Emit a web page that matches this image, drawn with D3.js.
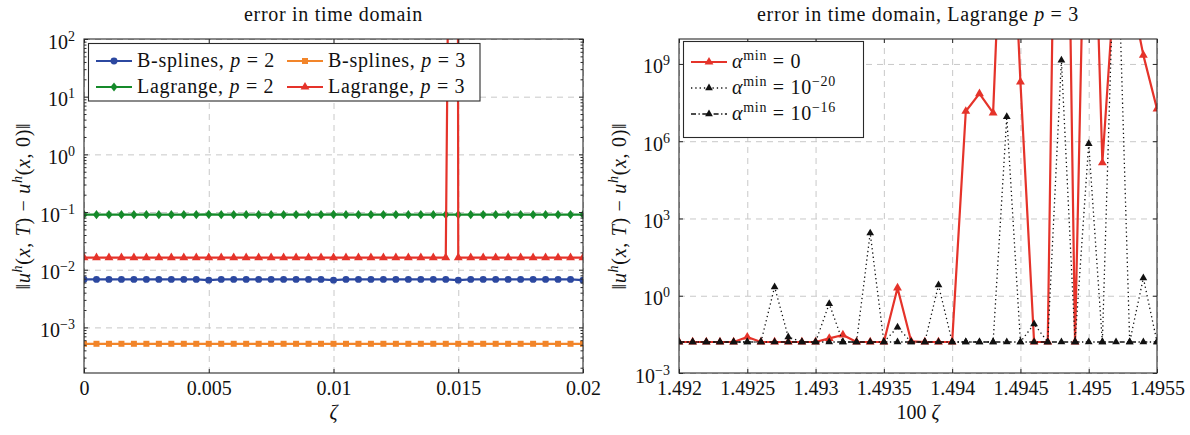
<!DOCTYPE html>
<html>
<head>
<meta charset="utf-8">
<script src="https://cdn.jsdelivr.net/npm/d3@7"></script>
<style>
body { margin: 0; background: #fff; }
</style>
</head>
<body>
<svg id="chart" width="1190" height="435"></svg>
<script>
// ---------- left panel: error vs zeta ----------
const zeta = d3.range(41).map(i => +(i * 0.0005).toFixed(4));
const bspline2 = [
  0.0068, 0.0068, 0.0068, 0.0068, 0.0068, 0.0068, 0.0068, 0.0068, 0.0068, 0.0068,
  0.0066, 0.0068, 0.0068, 0.0068, 0.0068, 0.0068, 0.0068, 0.0068, 0.0068, 0.0068,
  0.0066, 0.0068, 0.0068, 0.0068, 0.0068, 0.0068, 0.0068, 0.0068, 0.0068, 0.0068,
  0.0066, 0.0068, 0.0068, 0.0068, 0.0068, 0.0068, 0.0068, 0.0068, 0.0068, 0.0068,
  0.0066];
const bspline3 = [
  5.2e-4, 5.2e-4, 5.2e-4, 5.2e-4, 5.2e-4, 5.2e-4, 5.2e-4, 5.2e-4, 5.2e-4, 5.2e-4,
  5.2e-4, 5.2e-4, 5.2e-4, 5.2e-4, 5.2e-4, 5.2e-4, 5.2e-4, 5.2e-4, 5.2e-4, 5.2e-4,
  5.2e-4, 5.2e-4, 5.2e-4, 5.2e-4, 5.2e-4, 5.2e-4, 5.2e-4, 5.2e-4, 5.2e-4, 5.2e-4,
  5.2e-4, 5.2e-4, 5.2e-4, 5.2e-4, 5.2e-4, 5.2e-4, 5.2e-4, 5.2e-4, 5.2e-4, 5.2e-4,
  5.2e-4];
const lagrange2 = [
  0.09, 0.09, 0.09, 0.09, 0.09, 0.09, 0.09, 0.09, 0.09, 0.09,
  0.091, 0.09, 0.09, 0.09, 0.09, 0.09, 0.09, 0.09, 0.09, 0.09,
  0.091, 0.09, 0.09, 0.09, 0.09, 0.09, 0.09, 0.09, 0.09, 0.09,
  0.09, 0.09, 0.09, 0.09, 0.09, 0.09, 0.09, 0.09, 0.09, 0.09,
  0.09];
const lagrange3 = [
  0.0162, 0.0162, 0.0162, 0.0162, 0.0162, 0.0162, 0.0162, 0.0162, 0.0162, 0.0162,
  0.0162, 0.0162, 0.0162, 0.0162, 0.0162, 0.0162, 0.0162, 0.0162, 0.0162, 0.0162,
  0.0162, 0.0162, 0.0162, 0.0162, 0.0162, 0.0162, 0.0162, 0.0162, 0.0162, 0.0162,
  0.0162, 0.0162, 0.0162, 0.0162, 0.0162, 0.0162, 0.0162, 0.0162, 0.0162, 0.0162,
  0.0162];
// the blow-up point between 0.0145 and 0.015
const lagrange3SpikeZeta = [0.01494];
const lagrange3SpikeErr = [1e20];

const leftXTicks = [0, 0.005, 0.01, 0.015, 0.02];
const leftXLabels = ["0", "0.005", "0.01", "0.015", "0.02"];
const leftYExp = [-3, -2, -1, 0, 1, 2];

// ---------- right panel: zoom, Lagrange p = 3 ----------
const zeta100 = d3.range(36).map(i => +(1.492 + i * 0.0001).toFixed(4));
const alpha0 = [
  0.016, 0.016, 0.016, 0.016, 0.016, 0.025, 0.016, 0.016, 0.016, 0.016,
  0.016, 0.022, 0.03, 0.016, 0.016, 0.016, 2.0, 0.017, 0.016, 0.016,
  0.016, 1.45e7, 7e7, 1.26e7, 1e20, 2e8, 0.016, 0.016, 1e34, 0.016,
  1e23, 1.45e5, 1e13, 1e12, 2.2e9, 1.8e7];
const alpha1e20 = [
  0.016, 0.016, 0.016, 0.016, 0.016, 0.016, 0.016, 2.2, 0.025, 0.016,
  0.016, 0.49, 0.016, 0.016, 270, 0.016, 0.06, 0.016, 0.016, 2.6,
  0.016, 0.016, 0.016, 0.016, 8.9e6, 0.016, 0.08, 0.016, 1.4e9, 0.016,
  8e5, 0.016, 1e16, 0.016, 4.9, 0.016];
const alpha1e16 = [
  0.016, 0.016, 0.016, 0.016, 0.016, 0.016, 0.016, 0.016, 0.016, 0.016,
  0.016, 0.016, 0.016, 0.016, 0.016, 0.016, 0.016, 0.016, 0.016, 0.016,
  0.016, 0.016, 0.016, 0.016, 0.016, 0.016, 0.016, 0.016, 0.016, 0.016,
  0.016, 0.016, 0.016, 0.016, 0.016, 0.016];

const rightXTicks = [1.492, 1.4925, 1.493, 1.4935, 1.494, 1.4945, 1.495, 1.4955];
const rightXLabels = ["1.492", "1.4925", "1.493", "1.4935", "1.494", "1.4945", "1.495", "1.4955"];
const rightYExp = [-3, 0, 3, 6, 9];

// ---------- drawing ----------
const svg = d3.select("#chart")
  .attr("font-family", "'Liberation Serif', 'DejaVu Serif', serif")
  .attr("font-size", 20)
  .attr("fill", "#111");
svg.append("rect").attr("width", 1190).attr("height", 435).attr("fill", "#fff");

const blue = "#2c48a0", orange = "#f2852a", green = "#158a2a", red = "#e5332a";
const wordSpacing = 0.7;

const markers = {
  circle: d3.symbol(d3.symbolCircle, 38)(),
  square: d3.symbol(d3.symbolSquare, 36)(),
  diamond: d3.symbol(d3.symbolDiamond, 30)(),
  triangle: d3.symbol(d3.symbolTriangle, 34)(),
  triSmall: d3.symbol(d3.symbolTriangle, 26)()
};
const markTf = m => (m === "diamond" ? " scale(1.2,0.9)" : "");

// text made of plain / italic / superscript pieces
function rich(textSel, parts) {
  let raised = false;
  parts.forEach(p => {
    const t = textSel.append("tspan").text(p.t);
    if (p.it) t.attr("font-style", "italic");
    if (p.sup) {
      t.attr("font-size", 14);
      if (!raised) { t.attr("dy", -8); raised = true; }
    } else if (raised) {
      t.attr("dy", 8); raised = false;
    }
  });
  return textSel;
}

const yLabelParts = [
  {t: "\u2016"}, {t: "u", it: 1}, {t: "h", it: 1, sup: 1}, {t: "("}, {t: "x", it: 1},
  {t: ", "}, {t: "T", it: 1}, {t: ") \u2212 "}, {t: "u", it: 1}, {t: "h", it: 1, sup: 1},
  {t: "("}, {t: "x", it: 1}, {t: ", 0)\u2016"}
];

function panel(cfg) {
  const x = d3.scaleLinear().domain(cfg.xDomain).range([cfg.left, cfg.right]);
  const y = d3.scaleLog().domain(cfg.yDomain).range([cfg.bottom, cfg.top]);
  const w = cfg.right - cfg.left, h = cfg.bottom - cfg.top;
  const yTicks = cfg.yExp.map(e => Math.pow(10, e));
  const g = svg.append("g");

  // dashed grid
  g.append("g").attr("transform", `translate(0,${cfg.bottom})`)
    .call(d3.axisBottom(x).tickValues(cfg.xTicks).tickSize(-h).tickFormat(""))
    .call(a => a.select(".domain").remove())
    .selectAll("line").attr("stroke", "#c8c8c8").attr("stroke-dasharray", "6,5");
  g.append("g").attr("transform", `translate(${cfg.left},0)`)
    .call(d3.axisLeft(y).tickValues(yTicks).tickSize(-w).tickFormat(""))
    .call(a => a.select(".domain").remove())
    .selectAll("line").attr("stroke", "#c8c8c8").attr("stroke-dasharray", "6,5");

  // series, clipped to the plot area
  const clipId = cfg.id + "-clip";
  svg.append("clipPath").attr("id", clipId).append("rect")
    .attr("x", cfg.left).attr("y", cfg.top).attr("width", w).attr("height", h);
  const sg = g.append("g").attr("clip-path", `url(#${clipId})`);
  const line = d3.line().x(d => x(d[0])).y(d => y(d[1]));
  cfg.series.forEach(s => {
    const pts = s.x.map((v, i) => [v, s.y[i]]);
    if (s.extraX) s.extraX.forEach((v, i) => pts.push([v, s.extraY[i]]));
    pts.sort((a, b) => a[0] - b[0]);
    sg.append("path").datum(pts).attr("d", line)
      .attr("fill", "none").attr("stroke", s.color).attr("stroke-width", s.width)
      .attr("stroke-dasharray", s.dash || null).attr("stroke-linejoin", "round");
    const mpts = pts.filter(d => !s.extraX || !s.extraX.includes(d[0]));
    sg.append("g").selectAll("path").data(mpts).join("path")
      .attr("d", markers[s.marker])
      .attr("transform", d => `translate(${x(d[0])},${y(d[1])})` + markTf(s.marker))
      .attr("fill", s.mcolor || s.color);
  });

  // frame
  g.append("rect").attr("x", cfg.left).attr("y", cfg.top).attr("width", w).attr("height", h)
    .attr("fill", "none").attr("stroke", "#2a2a2a").attr("stroke-width", 1.1);

  // inward tick marks on all sides
  const tickStyle = a => { a.select(".domain").remove(); a.selectAll("line").attr("stroke", "#2a2a2a"); };
  g.append("g").attr("transform", `translate(0,${cfg.bottom})`)
    .call(d3.axisBottom(x).tickValues(cfg.xTicks).tickSize(-4).tickFormat("")).call(tickStyle);
  g.append("g").attr("transform", `translate(0,${cfg.top})`)
    .call(d3.axisTop(x).tickValues(cfg.xTicks).tickSize(-4).tickFormat("")).call(tickStyle);
  g.append("g").attr("transform", `translate(${cfg.left},0)`)
    .call(d3.axisLeft(y).tickValues(yTicks).tickSize(-4).tickFormat("")).call(tickStyle);
  g.append("g").attr("transform", `translate(${cfg.right},0)`)
    .call(d3.axisRight(y).tickValues(yTicks).tickSize(-4).tickFormat("")).call(tickStyle);
  if (cfg.minor) {
    const [lo, hi] = cfg.yDomain;
    const minor = [];
    for (let e = Math.floor(Math.log10(lo)); e < Math.log10(hi); e++)
      for (let k = 2; k <= 9; k++) { const v = k * Math.pow(10, e); if (v > lo && v < hi) minor.push(v); }
    g.append("g").attr("transform", `translate(${cfg.left},0)`)
      .call(d3.axisLeft(y).tickValues(minor).tickSize(-2.5).tickFormat("")).call(tickStyle);
    g.append("g").attr("transform", `translate(${cfg.right},0)`)
      .call(d3.axisRight(y).tickValues(minor).tickSize(-2.5).tickFormat("")).call(tickStyle);
  }

  // tick labels
  const xl = g.append("g").attr("transform", `translate(0,${cfg.bottom})`)
    .call(d3.axisBottom(x).tickValues(cfg.xTicks).tickSize(0).tickPadding(8)
      .tickFormat((d, i) => cfg.xLabels[i]));
  xl.select(".domain").remove();
  xl.attr("font-size", null).attr("font-family", null);
  xl.selectAll("text").attr("fill", "#111");

  const yl = g.append("g").attr("transform", `translate(${cfg.left},0)`)
    .call(d3.axisLeft(y).tickValues(yTicks).tickSize(0).tickPadding(9).tickFormat(""));
  yl.select(".domain").remove();
  yl.attr("font-size", null).attr("font-family", null);
  yl.selectAll(".tick text").each(function(d, i) {
    const t = d3.select(this).attr("dy", "0.45em").attr("fill", "#111");
    rich(t, [{t: "10"}, {t: (cfg.yExp[i] < 0 ? "\u2212" : "") + Math.abs(cfg.yExp[i]), sup: 1}]);
  });

  // titles and axis labels
  const cx = (cfg.left + cfg.right) / 2;
  rich(g.append("text").attr("x", cx).attr("y", 21).attr("text-anchor", "middle")
    .attr("letter-spacing", wordSpacing), cfg.title);
  rich(g.append("text").attr("x", cx).attr("y", 419).attr("text-anchor", "middle"), cfg.xTitle);
  rich(g.append("text").attr("text-anchor", "middle").attr("letter-spacing", wordSpacing)
    .attr("transform", `translate(${cfg.yTitleX},${(cfg.top + cfg.bottom) / 2}) rotate(-90)`), yLabelParts);

  // legend
  const L = cfg.legend;
  const lg = g.append("g");
  lg.append("rect").attr("x", L.x).attr("y", L.y).attr("width", L.w).attr("height", L.h)
    .attr("fill", "#fff").attr("stroke", "#2a2a2a").attr("stroke-width", 1.1);
  L.items.forEach(it => {
    const s = cfg.series[it.s];
    lg.append("line").attr("x1", it.x).attr("x2", it.x + 36).attr("y1", it.y).attr("y2", it.y)
      .attr("stroke", s.color).attr("stroke-width", s.width).attr("stroke-dasharray", s.dash || null);
    lg.append("path").attr("d", markers[s.marker])
      .attr("transform", `translate(${it.x + 18},${it.y})` + markTf(s.marker))
      .attr("fill", s.mcolor || s.color);
    rich(lg.append("text").attr("x", it.x + 41).attr("y", it.y + 6)
      .attr("letter-spacing", wordSpacing), it.label);
  });
}

const eq = v => [{t: " = " + v}];

panel({
  id: "left", left: 84, right: 583, top: 39, bottom: 373,
  xDomain: [0, 0.02], yDomain: [1.62e-4, 100],
  xTicks: leftXTicks, xLabels: leftXLabels, yExp: leftYExp, minor: true,
  yTitleX: 30,
  title: [{t: "error in time domain"}],
  xTitle: [{t: "\u03b6", it: 1}],
  series: [
    {x: zeta, y: bspline2, color: blue, width: 2.2, marker: "circle"},
    {x: zeta, y: bspline3, color: orange, width: 2.2, marker: "square"},
    {x: zeta, y: lagrange2, color: green, width: 2.2, marker: "diamond"},
    {x: zeta, y: lagrange3, color: red, width: 2.2, marker: "triangle",
     extraX: lagrange3SpikeZeta, extraY: lagrange3SpikeErr}
  ],
  legend: {
    x: 88.5, y: 43.5, w: 391.5, h: 57.5,
    items: [
      {s: 0, x: 96, y: 61, label: [{t: "B-splines, "}, {t: "p", it: 1}, ...eq(2)]},
      {s: 1, x: 287, y: 61, label: [{t: "B-splines, "}, {t: "p", it: 1}, ...eq(3)]},
      {s: 2, x: 96, y: 87, label: [{t: "Lagrange, "}, {t: "p", it: 1}, ...eq(2)]},
      {s: 3, x: 287, y: 87, label: [{t: "Lagrange, "}, {t: "p", it: 1}, ...eq(3)]}
    ]
  }
});

panel({
  id: "right", left: 679, right: 1157, top: 39, bottom: 373,
  xDomain: [1.492, 1.4955], yDomain: [1e-3, 9.3e9],
  xTicks: rightXTicks, xLabels: rightXLabels, yExp: rightYExp, minor: false,
  yTitleX: 626,
  title: [{t: "error in time domain, Lagrange "}, {t: "p", it: 1}, {t: " = 3"}],
  xTitle: [{t: "100 "}, {t: "\u03b6", it: 1}],
  series: [
    {x: zeta100, y: alpha0, color: red, width: 2.2, marker: "triangle"},
    {x: zeta100, y: alpha1e20, color: "#111", width: 1.3, dash: "1.3,3", marker: "triSmall"},
    {x: zeta100, y: alpha1e16, color: "#111", width: 1.3, dash: "5,2.5,1.3,2.5", marker: "triSmall"}
  ],
  legend: {
    x: 683.5, y: 41.5, w: 180, h: 96,
    items: [
      {s: 0, x: 691, y: 62, label: [{t: "\u03b1", it: 1}, {t: "min", sup: 1}, {t: " = 0"}]},
      {s: 1, x: 691, y: 88, label: [{t: "\u03b1", it: 1}, {t: "min", sup: 1}, {t: " = 10"}, {t: "\u221220", sup: 1}]},
      {s: 2, x: 691, y: 114, label: [{t: "\u03b1", it: 1}, {t: "min", sup: 1}, {t: " = 10"}, {t: "\u221216", sup: 1}]}
    ]
  }
});
</script>
</body>
</html>
